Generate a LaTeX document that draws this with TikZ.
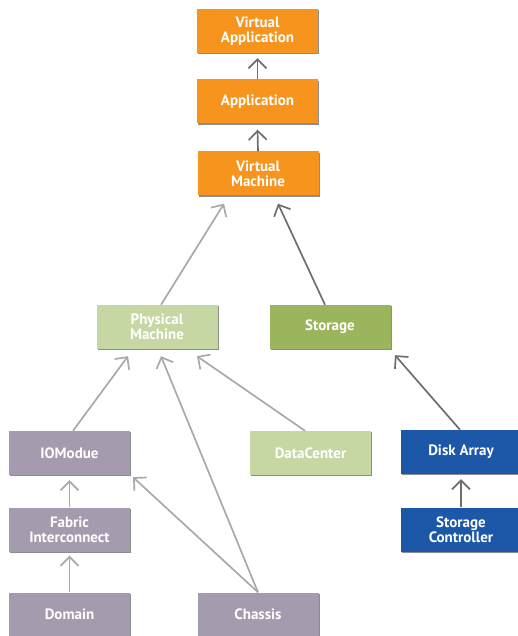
\documentclass[tikz,border=0pt]{standalone}
\usepackage{fontspec}
\setmainfont{PT Sans}
\usetikzlibrary{arrows.meta,shadows}
\definecolor{virt}{HTML}{F7941E}
\definecolor{phys}{HTML}{C6D7A3}
\definecolor{stor}{HTML}{9AB55B}
\definecolor{hard}{HTML}{A49BAE}
\definecolor{disk}{HTML}{1C57A8}
\definecolor{lndark}{HTML}{6D6E71}
\definecolor{lnlight}{HTML}{A7A9AC}
\begin{document}
\begin{tikzpicture}[x=1pt,y=-1pt,
    box/.style={minimum width=121pt, minimum height=44pt, inner sep=0pt, align=center,
      text=white, font=\fontsize{15}{15}\selectfont\bfseries,
      drop shadow={shadow xshift=1pt, shadow yshift=-1.2pt, fill=black, opacity=0.45}},
    dk/.style={draw=lndark, line width=1.7pt, -{Straight Barb[length=9pt,width=18pt]}},
    lt/.style={draw=lnlight, line width=1.7pt, -{Straight Barb[length=9pt,width=18pt]}}]
    \useasboundingbox (0,0) rectangle (518,636);
    \node[box, fill=virt] (va) at (257.5, 31) {Virtual\\Application};
    \node[box, fill=virt] (app) at (257.5, 101.5) {Application};
    \node[box, fill=virt] (vm) at (258, 173.5) {Virtual\\Machine};
    \node[box, fill=phys] (pm) at (157, 327) {Physical\\Machine};
    \node[box, fill=stor] (st) at (330, 327) {Storage};
    \node[box, fill=hard] (io) at (69.5, 453) {IOModue};
    \node[box, fill=phys] (dc) at (310.5, 453) {DataCenter};
    \node[box, fill=disk] (da) at (461, 452) {Disk Array};
    \node[box, fill=hard] (fi) at (69.5, 529.5) {Fabric\\Interconnect};
    \node[box, fill=disk] (sc) at (461, 529.5) {Storage\\Controller};
    \node[box, fill=hard] (dm) at (69.5, 614.5) {Domain};
    \node[box, fill=hard] (ch) at (258, 614.5) {Chassis};
    \draw [dk] (app.north) -- ([yshift=-5pt]va.south);
    \draw [dk] (vm.north) -- ([yshift=-6pt]app.south);
    \draw [lt] ([xshift=4pt]pm.north) -- ([xshift=-34pt,yshift=-8pt]vm.south);
    \draw [dk] ([xshift=-5pt]st.north) -- ([xshift=20pt,yshift=-8pt]vm.south);
    \draw [lt] ([xshift=3.5pt]io.north) -- ([xshift=-29pt,yshift=-7pt]pm.south);
    \draw [lt] (ch.north) -- ([xshift=4pt,yshift=-7pt]pm.south);
    \draw [lt] ([xshift=-5.5pt]dc.north) -- ([xshift=40pt,yshift=-7pt]pm.south);
    \draw [lt] (ch.north) -- ([xshift=63.5pt,yshift=-2pt]io.south);
    \draw [lt] (fi.north) -- ([yshift=-5pt]io.south);
    \draw [lt] (dm.north) -- ([yshift=-4pt]fi.south);
    \draw [dk] ([xshift=-1pt]da.north) -- ([xshift=65pt,yshift=-6pt]st.south);
    \draw [dk] (sc.north) -- ([yshift=-5pt]da.south);
\end{tikzpicture}
\end{document}
